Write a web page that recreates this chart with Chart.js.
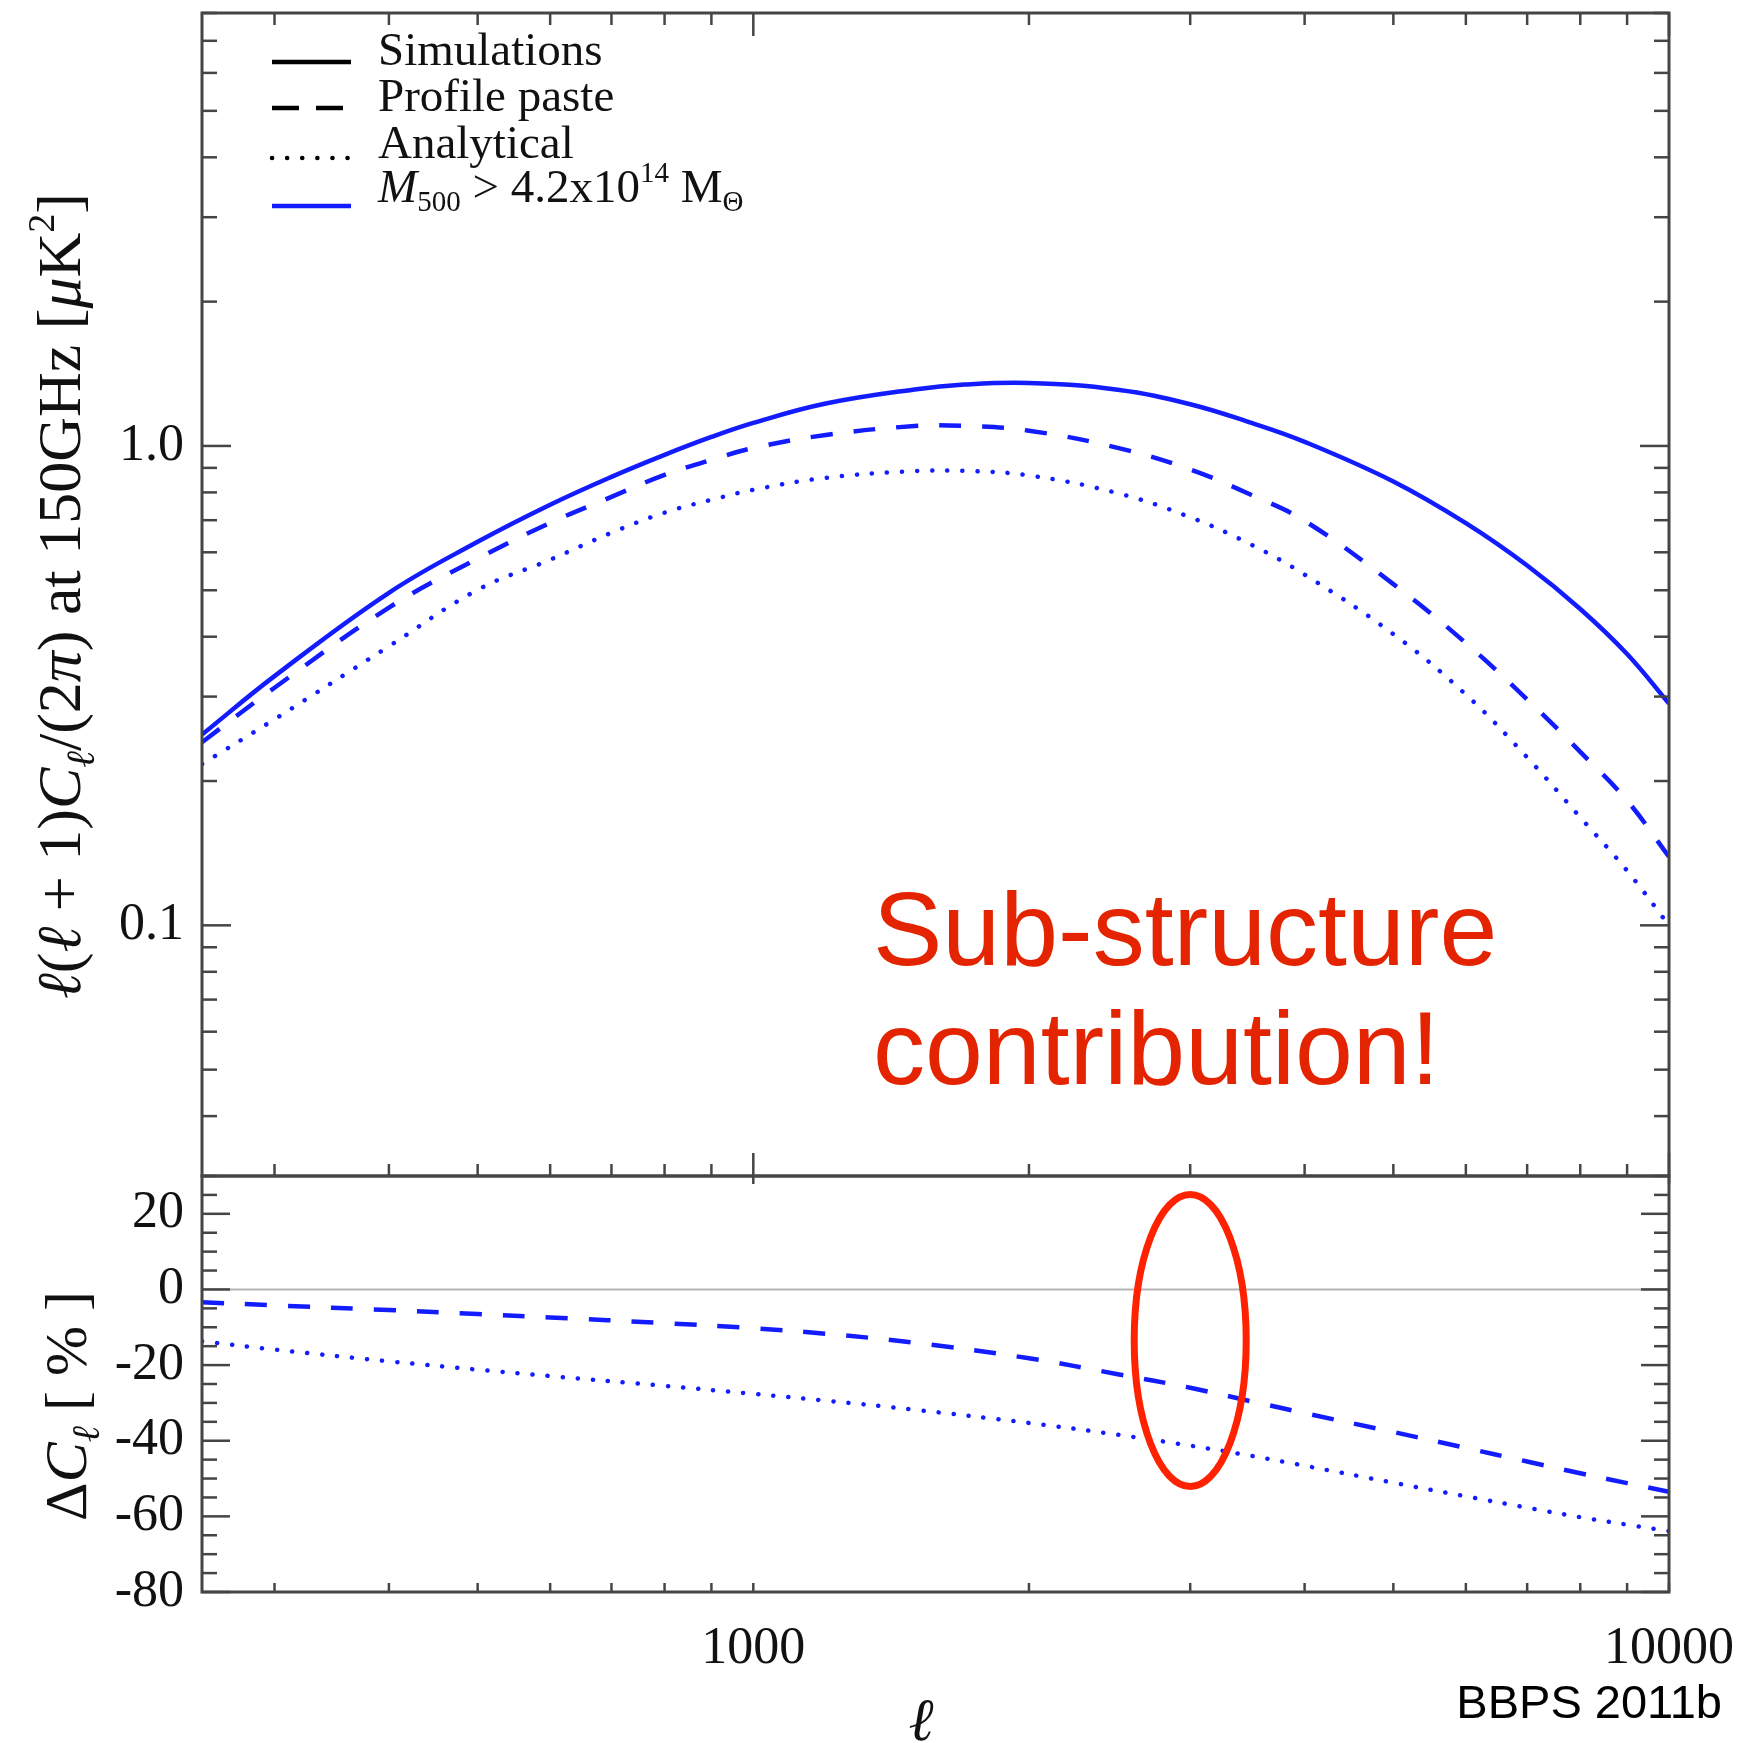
<!DOCTYPE html>
<html>
<head>
<meta charset="utf-8">
<title>BBPS 2011b - tSZ power spectrum</title>
<script src="https://cdn.jsdelivr.net/npm/chart.js@4.4.1/dist/chart.umd.min.js"></script>
<style>
  html, body { margin: 0; padding: 0; background: #fff; }
  #wrap { position: relative; width: 1748px; height: 1743px; }
</style>
</head>
<body>
<div id="wrap"><canvas id="cl" width="1748" height="1743"></canvas></div>
<script>
// upper panel: l(l+1)C_l/2pi at 150 GHz [uK^2]
const ells = [250, 300, 400, 500, 600, 700, 800, 900, 1000, 1200, 1500, 1700, 2000, 2500, 3000, 3500, 4000, 5000, 6000, 7000, 8000, 9000, 10000];
const simulations = [0.250, 0.331, 0.494, 0.631, 0.754, 0.862, 0.958, 1.044, 1.117, 1.226, 1.312, 1.343, 1.353, 1.310, 1.222, 1.117, 1.020, 0.843, 0.690, 0.563, 0.457, 0.368, 0.290];
const profilePaste = [0.241, 0.313, 0.460, 0.582, 0.691, 0.783, 0.870, 0.935, 0.990, 1.054, 1.100, 1.101, 1.076, 0.991, 0.893, 0.790, 0.698, 0.515, 0.388, 0.296, 0.230, 0.182, 0.139];
const analytical = [0.217, 0.269, 0.382, 0.501, 0.579, 0.659, 0.726, 0.772, 0.810, 0.858, 0.886, 0.887, 0.868, 0.797, 0.710, 0.622, 0.539, 0.405, 0.303, 0.224, 0.168, 0.130, 0.100];

// lower panel: difference to simulations [%]
const ellsRes = [250, 300, 400, 500, 600, 800, 1000, 1200, 1500, 2000, 2500, 3000, 3500, 4000, 5000, 6000, 7000, 8000, 9000, 10000];
const resPaste = [-3.4, -4.2, -5.45, -6.5, -7.4, -8.9, -10.25, -11.7, -14.1, -18.2, -22.4, -26.0, -29.6, -32.7, -37.7, -41.9, -45.5, -48.6, -51.2, -53.5];
const resAnalytical = [-13.7, -15.9, -19.0, -21.2, -22.9, -25.5, -27.6, -29.4, -31.8, -35.3, -38.4, -41.3, -44.0, -46.6, -51.1, -54.7, -57.7, -60.2, -62.2, -63.9];

// ticks
const xTicks = [1000, 10000];
const xTickLabels = ["1000", "10000"];
const xMinor = [300, 400, 500, 600, 700, 800, 900, 2000, 3000, 4000, 5000, 6000, 7000, 8000, 9000];
const yTicks = [0.1, 1];
const yTickLabels = ["0.1", "1.0"];
const yMinor = [0.03, 0.04, 0.05, 0.06, 0.07, 0.08, 0.09, 0.2, 0.3, 0.4, 0.5, 0.6, 0.7, 0.8, 0.9, 2, 3, 4, 5, 6, 7, 8];
const resTicks = [-80, -60, -40, -20, 0, 20];
const resTickLabels = ["-80", "-60", "-40", "-20", "0", "20"];
const resMinor = [-75, -70, -65, -55, -50, -45, -35, -30, -25, -15, -10, -5, 5, 10, 15, 25];

// annotation: red ellipse around l = 3000
const circleEll = 3000;
const circleRes = -13.5;

const SERIF = '"Liberation Serif", "Times New Roman", serif';
const SANS = '"Liberation Sans", Arial, Helvetica, sans-serif';
const BLUE = "rgb(18, 28, 255)";
const DASH = [22, 21];
const DOT = [0.1, 15];

const pts = (xs, ys) => xs.map((x, i) => ({ x: x, y: ys[i] }));
const labelFor = (vals, labels) => (v) => {
  const i = vals.findIndex((t) => Math.abs(t - v) < 1e-9 * Math.max(1, Math.abs(t)));
  return i >= 0 ? labels[i] : "";
};

function segFont(p, size) {
  return (p.i ? "italic " : "") + Math.round(size * (p.s || 1)) + "px " + SERIF;
}

function drawRich(ctx, parts, size, x, y, align) {
  let total = 0;
  parts.forEach((p) => {
    ctx.font = segFont(p, size);
    p.w = ctx.measureText(p.t).width;
    total += p.w;
  });
  let cx = align === "center" ? x - total / 2 : x;
  ctx.textAlign = "left";
  parts.forEach((p) => {
    ctx.font = segFont(p, size);
    ctx.fillText(p.t, cx, y + (p.dy || 0) * size);
    cx += p.w;
  });
}

// frame, inward ticks and zero line
const panelFrame = {
  id: "panelFrame",
  beforeDatasetsDraw(chart) {
    const { ctx } = chart;
    const x = chart.scales.x, yL = chart.scales.y2;
    const y0 = yL.getPixelForValue(0);
    ctx.save();
    ctx.strokeStyle = "#b4b4b4";
    ctx.lineWidth = 2;
    ctx.beginPath();
    ctx.moveTo(x.left, y0);
    ctx.lineTo(x.right, y0);
    ctx.stroke();
    ctx.restore();
  },
  afterDatasetsDraw(chart) {
    const { ctx } = chart;
    const x = chart.scales.x, yU = chart.scales.y, yL = chart.scales.y2;
    ctx.save();
    ctx.strokeStyle = "#454545";
    ctx.lineWidth = 2.5;
    const seg = (x1, y1, x2, y2) => {
      ctx.beginPath();
      ctx.moveTo(x1, y1);
      ctx.lineTo(x2, y2);
      ctx.stroke();
    };
    const xTick = (panel, v, lenTop, lenBot) => {
      const px = x.getPixelForValue(v);
      if (lenTop) seg(px, panel.top, px, panel.top + lenTop);
      if (lenBot) seg(px, panel.bottom, px, panel.bottom - lenBot);
    };
    const yTick = (scale, v, len) => {
      const py = scale.getPixelForValue(v);
      seg(x.left, py, x.left + len, py);
      seg(x.right, py, x.right - len, py);
    };
    xTicks.forEach((v) => { xTick(yU, v, 23, 23); xTick(yL, v, 8, 9); });
    xMinor.forEach((v) => { xTick(yU, v, 12, 12); xTick(yL, v, 0, 9); });
    yTicks.forEach((v) => yTick(yU, v, 29));
    yMinor.forEach((v) => yTick(yU, v, 15));
    resTicks.forEach((v) => yTick(yL, v, 28));
    resMinor.forEach((v) => yTick(yL, v, 15));

    ctx.lineWidth = 3;
    ctx.strokeRect(x.left, yU.top, x.right - x.left, yU.bottom - yU.top);
    ctx.strokeRect(x.left, yL.top, x.right - x.left, yL.bottom - yL.top);
    ctx.restore();
  },
  afterDraw(chart) {
    const { ctx } = chart;
    const x = chart.scales.x, yL = chart.scales.y2;
    ctx.save();
    ctx.fillStyle = "#111";
    ctx.textBaseline = "alphabetic";

    // axis titles
    ctx.save();
    ctx.translate(80, 596);
    ctx.rotate(-Math.PI / 2);
    drawRich(ctx, [
      { t: "\u2113", i: true }, { t: "(" }, { t: "\u2113", i: true }, { t: " + 1)" },
      { t: "C", i: true }, { t: "\u2113", i: true, s: 0.65, dy: 0.22 },
      { t: "/(2" }, { t: "\u03c0", i: true }, { t: ") at 150GHz [" },
      { t: "\u03bc", i: true }, { t: "K" }, { t: "2", s: 0.62, dy: -0.42 }, { t: "]" }
    ], 62, 0, 0, "center");
    ctx.restore();

    ctx.save();
    ctx.translate(86, 1406);
    ctx.rotate(-Math.PI / 2);
    drawRich(ctx, [
      { t: "\u0394" }, { t: "C", i: true }, { t: "\u2113", i: true, s: 0.65, dy: 0.22 }, { t: " [ % ]" }
    ], 60, 0, 0, "center");
    ctx.restore();

    drawRich(ctx, [{ t: "\u2113", i: true }], 60, 921, 1740, "center");

    // legend
    const legendRows = [
      { line: 62, base: 65, color: "#000", dash: [], cap: "butt", parts: [{ t: "Simulations" }] },
      { line: 108, base: 111, color: "#000", dash: [27, 17], cap: "butt", parts: [{ t: "Profile paste" }] },
      { line: 158, base: 158, color: "#000", dash: DOT, cap: "round", parts: [{ t: "Analytical" }] },
      { line: 206, base: 202, color: BLUE, dash: [], cap: "butt", parts: [
        { t: "M", i: true }, { t: "500", s: 0.62, dy: 0.2 }, { t: " > 4.2x10" },
        { t: "14", s: 0.62, dy: -0.42 }, { t: " M" }, { t: "\u0398", s: 0.62, dy: 0.2 }
      ] }
    ];
    legendRows.forEach((r) => {
      ctx.strokeStyle = r.color;
      ctx.lineWidth = 4.5;
      ctx.lineCap = r.cap;
      ctx.setLineDash(r.dash);
      ctx.beginPath();
      ctx.moveTo(272, r.line);
      ctx.lineTo(351, r.line);
      ctx.stroke();
      ctx.setLineDash([]);
      ctx.fillStyle = "#111";
      drawRich(ctx, r.parts, 47, 378, r.base, "left");
    });

    // red annotation
    ctx.fillStyle = "#e42400";
    ctx.font = "104px " + SANS;
    ctx.textAlign = "left";
    ctx.fillText("Sub-structure", 873, 965);
    ctx.fillText("contribution!", 873, 1084);

    ctx.strokeStyle = "#ff2200";
    ctx.lineWidth = 7;
    ctx.lineCap = "butt";
    ctx.beginPath();
    ctx.ellipse(x.getPixelForValue(circleEll), yL.getPixelForValue(circleRes), 56, 146, 0, 0, Math.PI * 2);
    ctx.stroke();

    ctx.fillStyle = "#000";
    ctx.font = "47px " + SANS;
    ctx.textAlign = "right";
    ctx.fillText("BBPS 2011b", 1722, 1718);
    ctx.restore();
  }
};

const lineDs = (label, data, axis, dash, cap) => ({
  label: label,
  data: data,
  yAxisID: axis,
  borderColor: BLUE,
  borderWidth: 4.5,
  borderDash: dash,
  borderCapStyle: cap,
  pointRadius: 0,
  fill: false,
  tension: 0.4
});

const tickFont = { family: SERIF, size: 52 };
const noPad = (s) => {
  s.paddingTop = 0;
  s.paddingBottom = 0;
  s.paddingLeft = 0;
  s.paddingRight = 0;
};

new Chart(document.getElementById("cl"), {
  type: "line",
  data: {
    datasets: [
      lineDs("Simulations", pts(ells, simulations), "y", [], "butt"),
      lineDs("Profile paste", pts(ells, profilePaste), "y", DASH, "butt"),
      lineDs("Analytical", pts(ells, analytical), "y", DOT, "round"),
      lineDs("Profile paste (%)", pts(ellsRes, resPaste), "y2", DASH, "butt"),
      lineDs("Analytical (%)", pts(ellsRes, resAnalytical), "y2", DOT, "round")
    ]
  },
  options: {
    responsive: false,
    devicePixelRatio: 1,
    animation: false,
    layout: { padding: { left: 0, right: 79, top: 13, bottom: 0 } },
    plugins: { legend: { display: false }, tooltip: { enabled: false } },
    scales: {
      x: {
        type: "logarithmic",
        position: "bottom",
        min: 250,
        max: 10000,
        grid: { display: false, drawTicks: false },
        border: { display: false },
        afterBuildTicks: (s) => { s.ticks = xTicks.map((v) => ({ value: v })); },
        afterFit: (s) => { s.height = 151; noPad(s); },
        ticks: {
          autoSkip: false,
          maxRotation: 0,
          padding: 26,
          color: "#111",
          font: tickFont,
          callback: labelFor(xTicks, xTickLabels)
        }
      },
      y: {
        type: "logarithmic",
        position: "left",
        stack: "panels",
        stackWeight: 1163,
        weight: 1,
        min: 0.03,
        max: 8,
        grid: { display: false, drawTicks: false },
        border: { display: false },
        afterBuildTicks: (s) => { s.ticks = yTicks.map((v) => ({ value: v })); },
        afterFit: (s) => { s.width = 202; noPad(s); },
        ticks: {
          autoSkip: false,
          padding: 18,
          color: "#111",
          font: tickFont,
          callback: labelFor(yTicks, yTickLabels)
        }
      },
      y2: {
        type: "linear",
        position: "left",
        stack: "panels",
        stackWeight: 416,
        weight: 0,
        min: -80,
        max: 30,
        grid: { display: false, drawTicks: false },
        border: { display: false },
        afterBuildTicks: (s) => { s.ticks = resTicks.map((v) => ({ value: v })); },
        afterFit: (s) => { s.width = 202; noPad(s); },
        ticks: {
          autoSkip: false,
          padding: 18,
          color: "#111",
          font: tickFont,
          callback: labelFor(resTicks, resTickLabels)
        }
      }
    }
  },
  plugins: [panelFrame]
});
</script>
</body>
</html>
